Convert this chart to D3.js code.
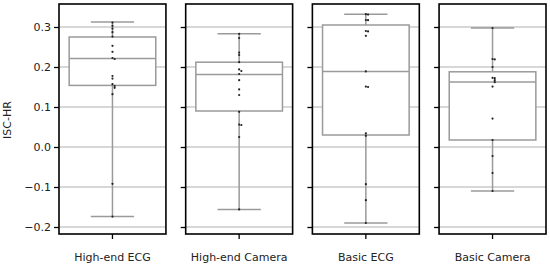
<html>
<head>
  <meta charset="utf-8" />
  <style>
    body { margin: 0; background: white; }
    svg { font-family: "DejaVu Sans", sans-serif; }
  </style>
</head>
<script src="https://d3js.org/d3.v7.min.js"></script>
<body>
<svg width="550" height="268"></svg>
<script>
  // categories and values
  var groups = ["High-end ECG", "High-end Camera", "Basic ECG", "Basic Camera"];
  var yTicks = [-0.2, -0.1, 0.0, 0.1, 0.2, 0.3];

  // box stats per group: [lowWhisker, q1, median, q3, highWhisker]
  var highEcgBox = [-0.174, 0.154, 0.221, 0.275, 0.3125];
  var highCamBox = [-0.156, 0.09, 0.181, 0.212, 0.283];
  var basicEcgBox = [-0.19, 0.03, 0.189, 0.305, 0.332];
  var basicCamBox = [-0.11, 0.0175, 0.1625, 0.188, 0.2975];

  var highEcgPts = [0.311, 0.303, 0.296, 0.287, 0.276, 0.253, 0.238, 0.2225, 0.22, 0.1775, 0.171, 0.157, 0.1525, 0.148, 0.132, -0.092, -0.174];
  var highCamPts = [0.283, 0.2725, 0.236, 0.23, 0.212, 0.194, 0.19, 0.1825, 0.167, 0.144, 0.13, 0.088, 0.056, 0.055, 0.025, -0.156];
  var basicEcgPts = [0.332, 0.331, 0.3175, 0.317, 0.29, 0.289, 0.278, 0.189, 0.151, 0.15, 0.034, 0.028, -0.093, -0.133, -0.19];
  var basicCamPts = [0.2975, 0.22, 0.219, 0.2, 0.173, 0.172, 0.167, 0.162, 0.151, 0.071, 0.0175, -0.0225, -0.065, -0.11];

  var boxes = [highEcgBox, highCamBox, basicEcgBox, basicCamBox];
  var points = [highEcgPts, highCamPts, basicEcgPts, basicCamPts];

  var svg = d3.select("svg");

  var x = d3.scaleBand().domain(groups).range([59, 546]).paddingInner(0.156).paddingOuter(0);
  var y = d3.scaleLinear().domain([-0.2175, 0.3575]).range([234, 4]);

  var lineGray = "#9a9a9a";
  var gridGray = "#b0b0b0";

  groups.forEach(function (g, i) {
    var x0 = x(g), w = x.bandwidth(), cx = x0 + w / 2;
    var panel = svg.append("g");

    // grid
    panel.selectAll("line.grid")
      .data(yTicks)
      .enter()
      .append("line")
      .attr("x1", x0).attr("x2", x0 + w)
      .attr("y1", function (d) { return y(d) }).attr("y2", function (d) { return y(d) })
      .style("stroke", gridGray).style("stroke-width", 1.1);

    var b = boxes[i];
    var bw = w * 0.81;
    // whiskers
    panel.append("line").attr("x1", cx).attr("x2", cx).attr("y1", y(b[0])).attr("y2", y(b[1]))
      .style("stroke", lineGray).style("stroke-width", 1.5);
    panel.append("line").attr("x1", cx).attr("x2", cx).attr("y1", y(b[3])).attr("y2", y(b[4]))
      .style("stroke", lineGray).style("stroke-width", 1.5);
    [b[0], b[4]].forEach(function (v) {
      panel.append("line").attr("x1", cx - bw / 4).attr("x2", cx + bw / 4).attr("y1", y(v)).attr("y2", y(v))
        .style("stroke", lineGray).style("stroke-width", 1.5);
    });
    // box
    panel.append("rect")
      .attr("x", cx - bw / 2).attr("width", bw)
      .attr("y", y(b[3])).attr("height", y(b[1]) - y(b[3]))
      .style("fill", "white").style("stroke", lineGray).style("stroke-width", 1.5);
    panel.append("line").attr("x1", cx - bw / 2).attr("x2", cx + bw / 2).attr("y1", y(b[2])).attr("y2", y(b[2]))
      .style("stroke", lineGray).style("stroke-width", 1.5);

    // points, spread sideways when they crowd together
    var placed = [];
    points[i].forEach(function (v) {
      var py = y(v), k = 0, off = 0;
      var near = placed.filter(function (p) { return Math.abs(p.py - py) < 2.2 });
      if (near.length) {
        k = near.length;
        off = (k % 2 ? 1 : -1) * Math.ceil(k / 2) * 2.2;
      }
      placed.push({ py: py, px: cx + off });
    });
    panel.selectAll("circle")
      .data(placed)
      .enter()
      .append("circle")
      .attr("cx", function (d) { return d.px })
      .attr("cy", function (d) { return d.py })
      .attr("r", 1.1)
      .style("fill", "#222");

    // frame
    panel.append("rect")
      .attr("x", x0).attr("y", 4).attr("width", w).attr("height", 230)
      .style("fill", "none").style("stroke", "black").style("stroke-width", 1.6);

    // y axis ticks (labels only on first panel)
    var yAxis = d3.axisLeft(y).tickValues(yTicks).tickSize(5).tickPadding(3)
      .tickFormat(i === 0 ? function (d) { return d3.format(".1f")(d).replace("-", "\u2212") } : "");
    var ya = panel.append("g").attr("transform", "translate(" + x0 + ",0)").call(yAxis);
    ya.select(".domain").remove();
    ya.selectAll("line").style("stroke", "black").style("stroke-width", 1.3);
    ya.selectAll("text").style("font-size", "11px").style("fill", "#222").style("font-family", "DejaVu Sans");

    // x tick and label
    panel.append("line").attr("x1", cx).attr("x2", cx).attr("y1", 234).attr("y2", 239)
      .style("stroke", "black").style("stroke-width", 1.3);
    panel.append("text")
      .attr("x", cx).attr("y", 261)
      .style("text-anchor", "middle").style("font-size", "11px").style("fill", "#222")
      .text(g);
  });

  svg.append("text")
    .attr("transform", "translate(11,120) rotate(-90)")
    .style("text-anchor", "middle").style("font-size", "11px").style("fill", "#222")
    .text("ISC-HR");
</script>
</body>
</html>
